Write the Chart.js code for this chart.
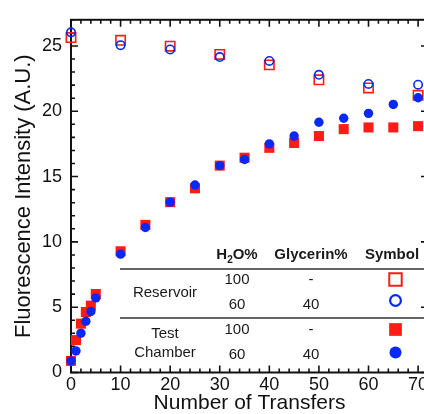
<!DOCTYPE html>
<html><head><meta charset="utf-8">
<script src="https://cdn.jsdelivr.net/npm/chart.js@4.4.0/dist/chart.umd.min.js"></script>
<style>
html,body{margin:0;padding:0;background:#fff;overflow:hidden;width:424px;height:414px;}
#wrap{position:absolute;left:0;top:0;width:448px;height:414px;}
</style></head><body>
<div id="wrap"><canvas id="c"></canvas></div>
<script>
// ---- data ----
const transfersReservoir = [0,10,20,30,40,50,60,70];
const reservoirWater    = [25.64,25.43,24.98,24.35,23.55,22.41,21.78,21.22];
const reservoirGlycerin = [26.04,25.06,24.73,24.15,23.85,22.79,22.09,22.03];
const transfersChamber = [0,1,2,3,4,5,10,15,20,25,30,35,40,45,50,55,60,65,70];
const chamberWater    = [0.89,2.48,3.74,4.63,5.12,6.01,9.28,11.3,13.04,14.1,15.84,16.44,17.2,17.57,18.1,18.63,18.76,18.76,18.86];
const chamberGlycerin = [0.89,1.65,3.01,3.92,4.67,5.71,9.06,11.1,13.04,14.35,15.84,16.31,17.5,18.1,19.16,19.46,19.84,20.52,21.03];
const xTicks = [0,10,20,30,40,50,60,70];
const yTicks = [0,5,10,15,20,25];
const tableGroups = ['Reservoir', 'Test\nChamber'];
const tableWater = ['100','60','100','60'];
const tableGlycerin = ['-','40','-','40'];

const RED = 'rgb(255,28,20)';
const BLUE = 'rgb(8,40,245)';
const FONT = '"Liberation Sans", Arial, sans-serif';

function pts(xs, ys){ return xs.map((x,i)=>({x:x, y:ys[i]})); }

const dsRW = {label:'Reservoir 100% H2O', data:pts(transfersReservoir,reservoirWater), pointStyle:'rect', pointRadius:6.6, borderColor:RED, backgroundColor:'rgba(0,0,0,0)', borderWidth:1.6, legendRadius:8.8, legendBorder:2};
const dsRG = {label:'Reservoir 60% H2O / 40% Glycerin', data:pts(transfersReservoir,reservoirGlycerin), pointStyle:'circle', pointRadius:4.2, borderColor:BLUE, backgroundColor:'rgba(0,0,0,0)', borderWidth:1.6, legendRadius:5.4, legendBorder:2.2};
const dsCW = {label:'Test Chamber 100% H2O', data:pts(transfersChamber,chamberWater), pointStyle:'rect', pointRadius:7.1, borderColor:RED, backgroundColor:RED, borderWidth:0, legendRadius:9, legendBorder:0};
const dsCG = {label:'Test Chamber 60% H2O / 40% Glycerin', data:pts(transfersChamber,chamberGlycerin), pointStyle:'circle', pointRadius:4.7, borderColor:BLUE, backgroundColor:BLUE, borderWidth:0, legendRadius:6, legendBorder:0};

// drawing order: index 0 on top
const datasets = [dsCG, dsCW, dsRG, dsRW].map(d=>Object.assign({showLine:false, clip:false, pointHoverRadius:d.pointRadius}, d));

function drawSym(ctx, d, x, y){
  ctx.save();
  ctx.fillStyle = d.backgroundColor; ctx.strokeStyle = d.borderColor; ctx.lineWidth = d.legendBorder;
  if (Chart.helpers && Chart.helpers.drawPoint) {
    Chart.helpers.drawPoint(ctx, {pointStyle:d.pointStyle, radius:d.legendRadius, rotation:0, borderWidth:d.legendBorder}, x, y);
  } else {
    ctx.beginPath();
    if (d.pointStyle==='rect'){ const s=d.legendRadius/Math.SQRT2; ctx.rect(x-s,y-s,2*s,2*s);} else ctx.arc(x,y,d.legendRadius,0,Math.PI*2);
    ctx.fill(); if (d.legendBorder>0) ctx.stroke();
  }
  ctx.restore();
}

const framePlugin = {
  id:'frame',
  beforeDatasetsDraw(chart){
    const {ctx, chartArea:a, scales:{x, y}} = chart;
    ctx.save();
    ctx.strokeStyle = '#111'; ctx.lineWidth = 2;
    ctx.strokeRect(a.left, a.top, a.right-a.left, a.bottom-a.top);
    ctx.lineWidth = 1.6;
    ctx.beginPath();
    for (let v = x.min; v <= x.max + 1e-9; v += 2) {
      const px = x.getPixelForValue(v);
      const L = (v % 10 === 0) ? 7 : 4;
      ctx.moveTo(px, a.bottom); ctx.lineTo(px, a.bottom - L);
      ctx.moveTo(px, a.top); ctx.lineTo(px, a.top + L);
    }
    for (let v = y.min; v <= y.max + 1e-9; v += 1) {
      const py = y.getPixelForValue(v);
      const L = (v % 5 === 0) ? 7 : 4;
      ctx.moveTo(a.left, py); ctx.lineTo(a.left + L, py);
      ctx.moveTo(a.right, py); ctx.lineTo(a.right - L, py);
    }
    ctx.stroke();
    ctx.restore();
  },
  afterDraw(chart){
    const ctx = chart.ctx;
    ctx.save();
    ctx.fillStyle = '#1a1a1a';
    ctx.textAlign = 'center'; ctx.textBaseline = 'middle';
    const colX = [237, 311, 392];
    const hdrY = 255;
    // H2O% header with subscript
    ctx.font = 'bold 15px ' + FONT;
    const wH = ctx.measureText('H').width, wO = ctx.measureText('O%').width;
    ctx.font = 'bold 10px ' + FONT;
    const w2 = ctx.measureText('2').width;
    let sx = colX[0] - (wH + w2 + wO)/2;
    ctx.textAlign = 'left';
    ctx.font = 'bold 15px ' + FONT; ctx.fillText('H', sx, hdrY);
    ctx.font = 'bold 10px ' + FONT; ctx.fillText('2', sx + wH, hdrY + 5);
    ctx.font = 'bold 15px ' + FONT; ctx.fillText('O%', sx + wH + w2, hdrY);
    ctx.textAlign = 'center';
    ctx.fillText('Glycerin%', colX[1], hdrY);
    ctx.fillText('Symbol', colX[2], hdrY);
    // rules
    ctx.strokeStyle = '#333'; ctx.lineWidth = 1.3;
    ctx.beginPath();
    ctx.moveTo(120, 269); ctx.lineTo(448, 269);
    ctx.moveTo(120, 318); ctx.lineTo(448, 318);
    ctx.stroke();
    // rows
    ctx.font = '15px ' + FONT;
    const rowY = [280, 305, 330, 355];
    tableWater.forEach((t,i)=>ctx.fillText(t, colX[0], rowY[i]));
    tableGlycerin.forEach((t,i)=>ctx.fillText(t, colX[1], rowY[i]));
    ctx.fillText(tableGroups[0], 165, 293);
    const g2 = tableGroups[1].split('\n');
    ctx.fillText(g2[0], 165, 334);
    ctx.fillText(g2[1], 165, 353);
    const symY = [279.5, 300.5, 329.5, 352.5];
    [dsRW, dsRG, dsCW, dsCG].forEach((d,i)=>drawSym(ctx, d, 395.5, symY[i]));
    ctx.restore();
  }
};

new Chart(document.getElementById('c'), {
  type:'scatter',
  data:{datasets},
  options:{
    responsive:true, maintainAspectRatio:false, animation:false,
    layout:{padding:{top:14, right:20, bottom:0, left:0}},
    plugins:{legend:{display:false}, tooltip:{enabled:false}},
    scales:{
      x:{
        type:'linear', min:0, max:72,
        grid:{display:false, drawTicks:false}, border:{display:false},
        afterBuildTicks:s=>{ s.ticks = xTicks.map(v=>({value:v})); },
        afterFit:s=>{ s.height = 41.5; },
        ticks:{color:'#111', font:{family:FONT, size:18, lineHeight:1.2}, padding:1.5, maxRotation:0, autoSkip:false},
        title:{display:true, text:'Number of Transfers', color:'#111', font:{family:FONT, size:21, lineHeight:1}, padding:{top:0,bottom:0}}
      },
      y:{
        type:'linear', min:0, max:27,
        grid:{display:false, drawTicks:false}, border:{display:false},
        afterBuildTicks:s=>{ s.ticks = yTicks.map(v=>({value:v})); },
        afterFit:s=>{ s.width = 71; },
        ticks:{color:'#111', font:{family:FONT, size:18}, padding:9, autoSkip:false},
        title:{display:true, text:'Fluorescence Intensity (A.U.)', color:'#111', font:{family:FONT, size:22, lineHeight:1}, padding:{top:13,bottom:0}}
      }
    }
  },
  plugins:[framePlugin]
});
</script>
</body></html>
